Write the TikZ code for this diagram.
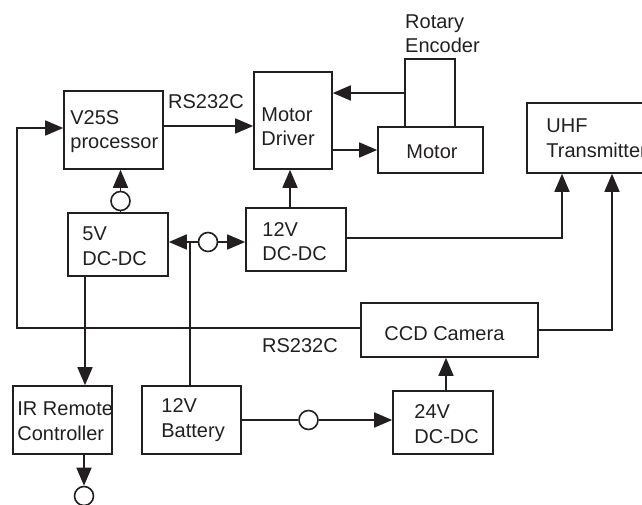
\documentclass[tikz,border=0pt]{standalone}
\usepackage{fontspec}
\setmainfont{Liberation Sans}
\usetikzlibrary{arrows.meta}
\definecolor{ink}{RGB}{35,31,32}
\begin{document}
\begin{tikzpicture}[x=1pt,y=-1pt,
  box/.style={draw=ink, line width=1.6pt, rectangle, inner sep=0pt},
  txt/.style={text=ink, font=\fontsize{20}{24.5}\selectfont, align=left, inner sep=0pt},
  arr/.style={draw=ink, line width=1.6pt, -{Triangle[length=18pt,width=15pt]}},
  ln/.style={draw=ink, line width=1.6pt},
  dot/.style={circle, draw=ink, fill=white, line width=1.6pt, minimum size=19pt, inner sep=0pt}]
\useasboundingbox (0,0) rectangle (642,505);
\clip (0,0) rectangle (642,505);

% boxes
\node[box, minimum width=99pt,  minimum height=78pt] (v25)   at (113.5,130) {};
\node[box, minimum width=78pt,  minimum height=97pt] (md)    at (293,120.5) {};
\node[box, minimum width=50pt,  minimum height=68pt] (enc)   at (430,93) {};
\node[box, minimum width=105pt, minimum height=46pt] (motor) at (430.5,150) {};
\node[box, minimum width=138pt, minimum height=70pt] (uhf)   at (596,138) {};
\node[box, minimum width=100pt, minimum height=63pt] (v5)    at (118,244.5) {};
\node[box, minimum width=100pt, minimum height=63pt] (v12)   at (296,239.5) {};
\node[box, minimum width=177pt, minimum height=54pt] (ccd)   at (449.5,330) {};
\node[box, minimum width=100pt, minimum height=63pt] (v24)   at (443,422.5) {};
\node[box, minimum width=99pt,  minimum height=68pt] (ir)    at (62.5,420) {};
\node[box, minimum width=99pt,  minimum height=68pt] (bat)   at (191.5,420) {};

% texts
\node[txt, anchor=west] (v25t) at ([xshift=7pt,yshift=-1.5pt]v25.west) {V25S\\processor};
\node[txt, anchor=west] (mdt) at ([xshift=8pt,yshift=-6pt]md.west) {Motor\\Driver};
\node[txt] (motort) at (432,152) {Motor};
\node[txt, anchor=west] (enct) at (405,33.5) {Rotary\\Encoder};
\node[txt, anchor=west] (uhft) at ([xshift=20pt]uhf.west) {UHF\\Transmitter};
\node[txt, anchor=west] (v5t) at ([xshift=15pt,yshift=-1.5pt]v5.west) {5V\\DC-DC};
\node[txt, anchor=west] (v12t) at ([xshift=17pt,yshift=-2pt]v12.west) {12V\\DC-DC};
\node[txt, anchor=west] (ccdt) at ([xshift=24pt,yshift=-4pt]ccd.west) {CCD Camera};
\node[txt, anchor=west] (v24t) at ([xshift=22pt,yshift=-1.5pt]v24.west) {24V\\DC-DC};
\node[txt, anchor=west] (irt) at ([xshift=5pt,yshift=-1pt]ir.west) {IR Remote\\Controller};
\node[txt, anchor=west] (batt) at ([xshift=20pt]bat.west) {12V\\Battery};
\node[txt] (rs1) at (206,102) {RS232C};
\node[txt] (rs2) at (300,346) {RS232C};

% connectors
\draw[arr] ([yshift=4pt]v25.east) -- ([yshift=4pt]v25.east -| md.west);
\draw[arr] (enc.west) -- (enc.west -| md.east);
\draw[arr] (md.east |- motor.west) -- (motor.west);

\node[dot] (c1) at (120.5,201) {};
\draw[ln] (c1) -- (c1 |- v5.north);
\draw[arr] (c1) -- (c1 |- v25.south);

\coordinate (x290) at (290,0);
\draw[arr] (v12.north -| x290) -- (md.south -| x290);

\coordinate (j) at (190,242);
\node[dot] (c2) at (208,242) {};
\draw[arr] (j) -- (j -| v5.east);
\draw[ln] (j) -- (c2);
\draw[arr] (c2) -- (c2 -| v12.west);
\draw[ln] (bat.north -| j) -- (j);

\coordinate (u1) at (562,238);
\draw[arr] (v12.east |- u1) -- (u1) -- (u1 |- uhf.south);
\coordinate (u2) at (612,330);
\draw[arr] (ccd.east |- u2) -- (u2) -- (u2 |- uhf.south);

\coordinate (l1) at (17,328);
\coordinate (l2) at (17,128);
\draw[arr] (ccd.west |- l1) -- (l1) -- (l2) -- (l2 -| v25.west);

\coordinate (i1) at (85,0);
\draw[arr] (v5.south -| i1) -- (ir.north -| i1);
\node[dot] (c3) at (84,496) {};
\draw[arr] (ir.south -| c3) -- (c3);

\node[dot] (c4) at (308.5,420) {};
\draw[ln] (bat.east) -- (c4);
\draw[arr] (c4) -- (c4 -| v24.west);

\coordinate (k) at (446,0);
\draw[arr] (v24.north -| k) -- (ccd.south -| k);
\end{tikzpicture}
\end{document}
